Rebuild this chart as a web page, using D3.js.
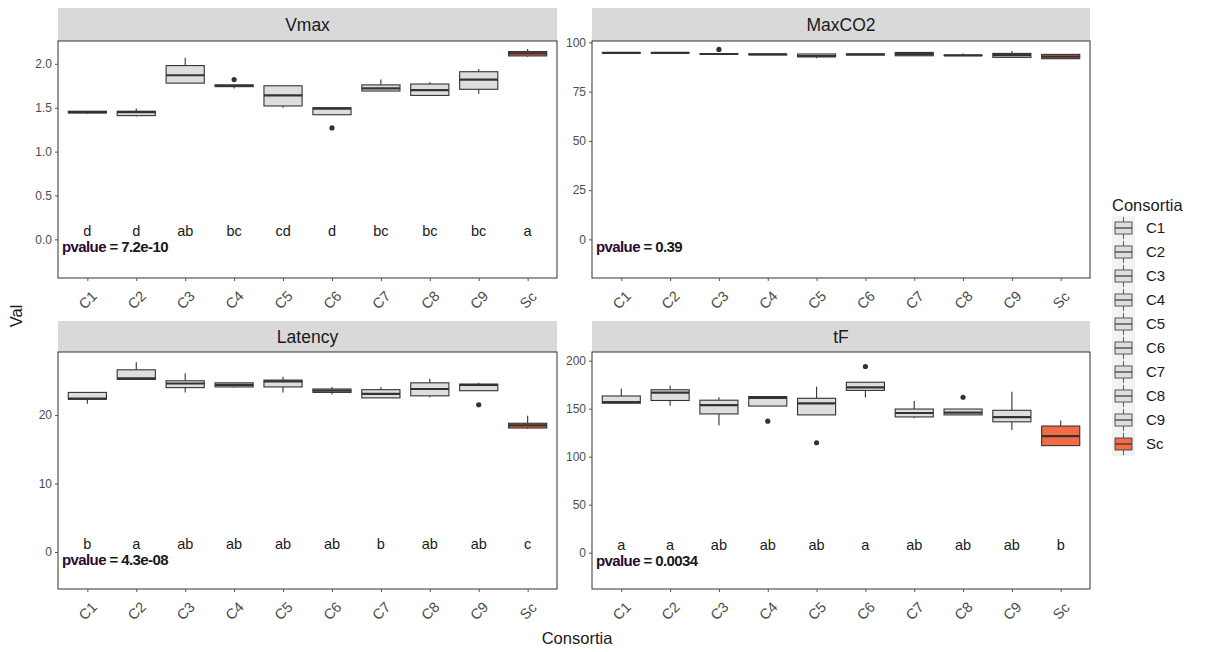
<!DOCTYPE html>
<html>
<head>
<meta charset="utf-8">
<script src="https://cdn.jsdelivr.net/npm/d3@7"></script>
<style>
  body { margin: 0; background: #fff; }
  svg { font-family: "Liberation Sans", Arial, sans-serif; }
</style>
</head>
<body>
<svg id="chart" width="1211" height="652"></svg>
<script>
// ---------- DATA ----------
const categories = ["C1","C2","C3","C4","C5","C6","C7","C8","C9","Sc"];
const panelNames = ["Vmax","MaxCO2","Latency","tF"];

// [min, q1, median, q3, max] per category
const vmaxStats = [
  [1.43,1.44,1.45,1.46,1.46],
  [1.40,1.41,1.45,1.46,1.49],
  [1.78,1.78,1.87,1.98,2.07],
  [1.72,1.74,1.75,1.76,1.76],
  [1.50,1.52,1.64,1.75,1.75],
  [1.42,1.42,1.49,1.50,1.50],
  [1.69,1.69,1.72,1.76,1.82],
  [1.64,1.64,1.70,1.77,1.79],
  [1.66,1.71,1.82,1.91,1.94],
  [2.08,2.09,2.12,2.14,2.17]
];
const vmaxOutliers = [["C4",1.82],["C6",1.27]];

const maxco2Stats = [
  [94.5,94.6,94.7,94.8,94.9],
  [94.6,94.6,94.7,94.7,94.7],
  [94.0,94.0,94.1,94.2,94.2],
  [93.7,93.7,93.9,94.1,94.1],
  [92.0,92.7,93.0,94.1,94.1],
  [93.5,93.6,93.9,94.1,94.3],
  [93.2,93.2,94.0,94.9,94.9],
  [93.3,93.3,93.4,93.5,94.3],
  [92.4,92.4,93.5,94.4,95.6],
  [91.7,91.7,92.8,93.9,93.9]
];
const maxco2Outliers = [["C3",96.4]];

const latencyStats = [
  [21.65,22.3,22.4,23.3,23.3],
  [25.2,25.2,25.35,26.6,27.7],
  [23.3,24.0,24.6,25.0,26.1],
  [24.0,24.1,24.4,24.7,24.7],
  [23.3,24.1,24.9,25.1,25.6],
  [23.0,23.3,23.55,23.8,24.1],
  [22.5,22.5,23.1,23.7,24.1],
  [22.6,22.8,23.8,24.7,25.3],
  [23.55,23.55,24.4,24.5,24.7],
  [17.95,18.1,18.5,18.8,19.9]
];
const latencyOutliers = [["C9",21.5]];

const tfStats = [
  [155.7,155.7,156.7,163.2,170.8],
  [153.0,158.5,166.7,169.7,174.1],
  [132.5,144.5,153.7,158.8,161.9],
  [152.7,152.7,161.2,162.6,162.6],
  [143.5,143.5,155.4,160.8,172.8],
  [161.6,169.0,172.1,177.5,177.5],
  [140.0,141.4,145.5,149.6,158.1],
  [143.5,143.5,145.8,149.6,149.6],
  [127.8,136.3,141.1,148.3,167.7],
  [111.5,111.5,121.3,131.9,137.6]
];
const tfOutliers = [["C4",137],["C5",114.5],["C6",193.9],["C8",161.9]];

const vmaxLetters    = ["d","d","ab","bc","cd","d","bc","bc","bc","a"];
const maxco2Letters  = [];
const latencyLetters = ["b","a","ab","ab","ab","ab","b","ab","ab","c"];
const tfLetters      = ["a","a","ab","ab","ab","a","ab","ab","ab","b"];

const pvalues = ["7.2e-10","0.39","4.3e-08","0.0034"];

const vmaxTicks    = [0,0.5,1.0,1.5,2.0];
const maxco2Ticks  = [0,25,50,75,100];
const latencyTicks = [0,10,20];
const tfTicks      = [0,50,100,150,200];

const yDomains = [[-0.44,2.26],[-19.6,100.7],[-5.4,29.2],[-37.8,209]];

// ---------- LAYOUT ----------
const panels = [
  {name:"Vmax",    stats:vmaxStats,    out:vmaxOutliers,    letters:vmaxLetters,    ticks:vmaxTicks,    fmt:d3.format(".1f"), x0:58,  x1:557,  s0:8,   p0:41,  p1:278},
  {name:"MaxCO2",  stats:maxco2Stats,  out:maxco2Outliers,  letters:maxco2Letters,  ticks:maxco2Ticks,  fmt:d3.format("d"),   x0:592, x1:1090, s0:8,   p0:41,  p1:278},
  {name:"Latency", stats:latencyStats, out:latencyOutliers, letters:latencyLetters, ticks:latencyTicks, fmt:d3.format("d"),   x0:58,  x1:557,  s0:321, p0:352, p1:589},
  {name:"tF",      stats:tfStats,      out:tfOutliers,      letters:tfLetters,      ticks:tfTicks,      fmt:d3.format("d"),   x0:592, x1:1090, s0:321, p0:352, p1:589}
];

const greyFill = "#DEDEDE";
const scFill = "#F26C45";
const fillFor = c => c === "Sc" ? scFill : greyFill;
const lineCol = "#333333";

const svg = d3.select("#chart");

panels.forEach((p, pi) => {
  const x = d3.scalePoint().domain(categories).range([p.x0, p.x1]).padding(0.6);
  const y = d3.scaleLinear().domain(yDomains[pi]).range([p.p1, p.p0]);
  const step = x.step();
  const bw = step * 0.78;
  const g = svg.append("g");

  // strip
  g.append("rect").attr("x", p.x0).attr("y", p.s0).attr("width", p.x1 - p.x0).attr("height", p.p0 - p.s0)
    .attr("fill", "#D9D9D9");
  g.append("text").attr("x", (p.x0 + p.x1) / 2).attr("y", (p.s0 + p.p0) / 2 + 6)
    .attr("text-anchor", "middle").attr("font-size", 17.5).attr("fill", "#1A1A1A").text(p.name);

  // panel background + border
  g.append("rect").attr("x", p.x0).attr("y", p.p0).attr("width", p.x1 - p.x0).attr("height", p.p1 - p.p0)
    .attr("fill", "#fff").attr("stroke", "#333").attr("stroke-width", 1);

  // y axis
  const yAxis = d3.axisLeft(y).tickValues(p.ticks).tickFormat(p.fmt).tickSize(3).tickPadding(3);
  const ya = g.append("g").attr("transform", `translate(${p.x0},0)`).call(yAxis);
  ya.select(".domain").remove();
  ya.selectAll(".tick line").attr("stroke", "#555");
  ya.selectAll(".tick text").attr("fill", "#4D4D4D").attr("font-size", 12)
    .attr("font-family", "Liberation Sans, Arial, sans-serif");

  // x axis
  const xAxis = d3.axisBottom(x).tickSize(3).tickPadding(0);
  const xa = g.append("g").attr("transform", `translate(0,${p.p1})`).call(xAxis);
  xa.select(".domain").remove();
  xa.selectAll(".tick line").attr("stroke", "#555");
  xa.selectAll(".tick text")
    .attr("fill", "#4D4D4D").attr("font-size", 14.5)
    .attr("font-family", "Liberation Sans, Arial, sans-serif")
    .attr("text-anchor", "middle").attr("dy", null).attr("y", 0)
    .attr("transform", "translate(0,22) rotate(-45)")
    .attr("dominant-baseline", "central");

  // boxes
  p.stats.forEach((s, i) => {
    const c = categories[i];
    const cx = x(c);
    const [mn, q1, md, q3, mx] = s;
    g.append("line").attr("x1", cx).attr("x2", cx).attr("y1", y(q3)).attr("y2", y(mx))
      .attr("stroke", lineCol).attr("stroke-width", 1.1);
    g.append("line").attr("x1", cx).attr("x2", cx).attr("y1", y(q1)).attr("y2", y(mn))
      .attr("stroke", lineCol).attr("stroke-width", 1.1);
    g.append("rect").attr("x", cx - bw / 2).attr("width", bw)
      .attr("y", y(q3)).attr("height", Math.max(0.01, y(q1) - y(q3)))
      .attr("fill", fillFor(c)).attr("stroke", lineCol).attr("stroke-width", 1.1);
    g.append("line").attr("x1", cx - bw / 2).attr("x2", cx + bw / 2).attr("y1", y(md)).attr("y2", y(md))
      .attr("stroke", lineCol).attr("stroke-width", 2.2);
  });

  p.out.forEach(([c, v]) => {
    g.append("circle").attr("cx", x(c)).attr("cy", y(v)).attr("r", 2.6).attr("fill", "#333");
  });

  // letters
  p.letters.forEach((l, i) => {
    g.append("text").attr("x", x(categories[i])).attr("y", y(0) - 3)
      .attr("text-anchor", "middle").attr("font-size", 14.5).attr("fill", "#1A1A1A").text(l);
  });

  // pvalue
  g.append("text").attr("x", p.x0 + 4).attr("y", y(0) + 13)
    .attr("font-size", 15).attr("font-weight", "bold").attr("letter-spacing", -0.6)
    .attr("fill", "#1A1A1A")
    .html(`<tspan fill="#2a0a33">pvalue</tspan> = ${pvalues[pi]}`);
});

// axis titles
svg.append("text").attr("x", 577).attr("y", 644).attr("text-anchor", "middle")
  .attr("font-size", 16.5).attr("fill", "#1A1A1A").text("Consortia");
svg.append("text").attr("transform", "translate(22,316) rotate(-90)").attr("text-anchor", "middle")
  .attr("font-size", 16.5).attr("fill", "#1A1A1A").text("Val");

// legend
const lg = svg.append("g");
lg.append("text").attr("x", 1112).attr("y", 211).attr("font-size", 16.5).attr("fill", "#1A1A1A").text("Consortia");
const keyH = 24, keyTop = 216;
lg.append("rect").attr("x", 1112).attr("y", keyTop).attr("width", 23).attr("height", keyH * categories.length)
  .attr("fill", "#F2F2F2");
categories.forEach((c, i) => {
  const cy = keyTop + keyH * i + keyH / 2;
  lg.append("line").attr("x1", 1123.5).attr("x2", 1123.5).attr("y1", cy - 11).attr("y2", cy + 11)
    .attr("stroke", lineCol).attr("stroke-width", 0.8);
  lg.append("rect").attr("x", 1115).attr("y", cy - 6).attr("width", 17).attr("height", 12)
    .attr("fill", fillFor(c)).attr("stroke", lineCol).attr("stroke-width", 0.8);
  lg.append("line").attr("x1", 1115).attr("x2", 1132).attr("y1", cy).attr("y2", cy)
    .attr("stroke", lineCol).attr("stroke-width", 1.2);
  lg.append("text").attr("x", 1146).attr("y", cy + 5).attr("font-size", 15).attr("fill", "#1A1A1A").text(c);
});
</script>
</body>
</html>
